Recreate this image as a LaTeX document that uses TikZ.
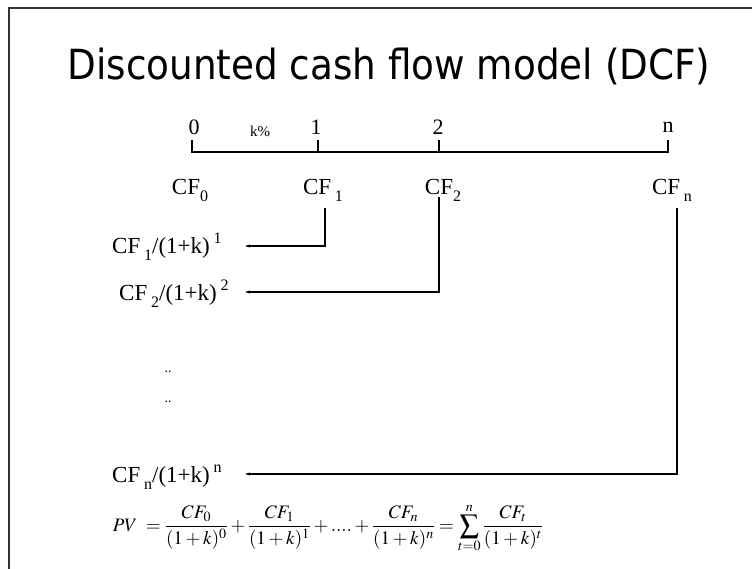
\documentclass[tikz,border=0pt]{standalone}
\usepackage{mathptmx}
\usepackage{fontspec}
\setmainfont{Liberation Serif}
\newfontfamily\titlefont{DejaVu Sans Condensed}
\usetikzlibrary{arrows.meta}
\tikzset{
  tl/.style={draw=black, line width=1.2pt},
  conn/.style={draw=black, line width=1.2pt, -{Stealth[length=5pt,width=3pt]}},
  tick/.style={font=\fontsize{22}{22}\selectfont, inner sep=0pt},
  cf/.style={font=\fontsize{23}{23}\selectfont, inner sep=0pt, anchor=base},
  lab/.style={font=\fontsize{23}{23}\selectfont, inner sep=0pt, anchor=base west},
}
\newcommand{\sbs}[1]{\raisebox{-0.32em}{\fontsize{16}{16}\selectfont #1}}
\newcommand{\sps}[1]{\raisebox{0.42em}{\fontsize{16}{16}\selectfont #1}}
\begin{document}
\begin{tikzpicture}[x=1pt,y=-1pt]
\useasboundingbox (0,0) rectangle (752,568);
\fill[white] (0,0) rectangle (752,568);
\draw[line width=2pt, draw=black!80] (9,600) -- (9,8) -- (780,8);
\node[font=\titlefont\fontsize{41.5}{41.5}\selectfont, inner sep=0pt] (title) at (389,66) {Discounted cash flow model (DCF)};
% timeline
\coordinate (t0) at (192,152);
\coordinate (t1) at (318,152);
\coordinate (t2) at (439,152);
\coordinate (tn) at (668,152);
\draw[tl] (192,140) -- (t0) -- (tn) -- (668,140);
\draw[tl] (t1) -- (318,140);
\draw[tl] (t2) -- (439,140);
\node[tick] (l0) at (194,127) {0};
\node[tick, font=\fontsize{15}{15}\selectfont] (lk) at (260,131) {k\%};
\node[tick] (l1) at (316,127) {1};
\node[tick] (l2) at (438,127) {2};
\node[tick] (ln) at (668,127) {n};
% cash flows
\node[cf] (cf0) at (190,194) {CF\sbs{0}};
\node[cf] (cf1) at (323,194) {CF\,\sbs{1}};
\node[cf] (cf2) at (443,194) {CF\sbs{2}};
\node[cf] (cfn) at (672,194) {CF\,\sbs{n}};
% discounted labels
\node[lab] (d1) at (112,253) {CF\,\sbs{1}/(1+k)\,\sps{1}};
\node[lab] (d2) at (119,300) {CF\,\sbs{2}/(1+k)\,\sps{2}};
\node[lab] (dn) at (112,482) {CF\,\sbs{n}/(1+k)\,\sps{n}};
\coordinate (v1) at (325,208);
\coordinate (v2) at (439,197);
\coordinate (vn) at (677,208);
\coordinate (h1) at (245,246);
\coordinate (h2) at (245,292);
\coordinate (hn) at (245,474);
\draw[conn] (v1) |- (h1);
\draw[conn] (v2) |- (h2);
\draw[conn] (vn) |- (hn);
\node[font=\fontsize{14}{14}\selectfont, inner sep=0pt] (dots1) at (168,372) {..};
\node[font=\fontsize{14}{14}\selectfont, inner sep=0pt] (dots2) at (168,402) {..};
% formula
\node[inner sep=0pt, font=\fontsize{19}{22}\selectfont] (pv) at (328,528) {$\displaystyle PV\; = \frac{CF_0}{(1+k)^0} + \frac{CF_1}{(1+k)^1} + \mathord{....} + \frac{CF_n}{(1+k)^n} = \sum_{t=0}^{n}\frac{CF_t}{(1+k)^t}$};
\end{tikzpicture}
\end{document}
